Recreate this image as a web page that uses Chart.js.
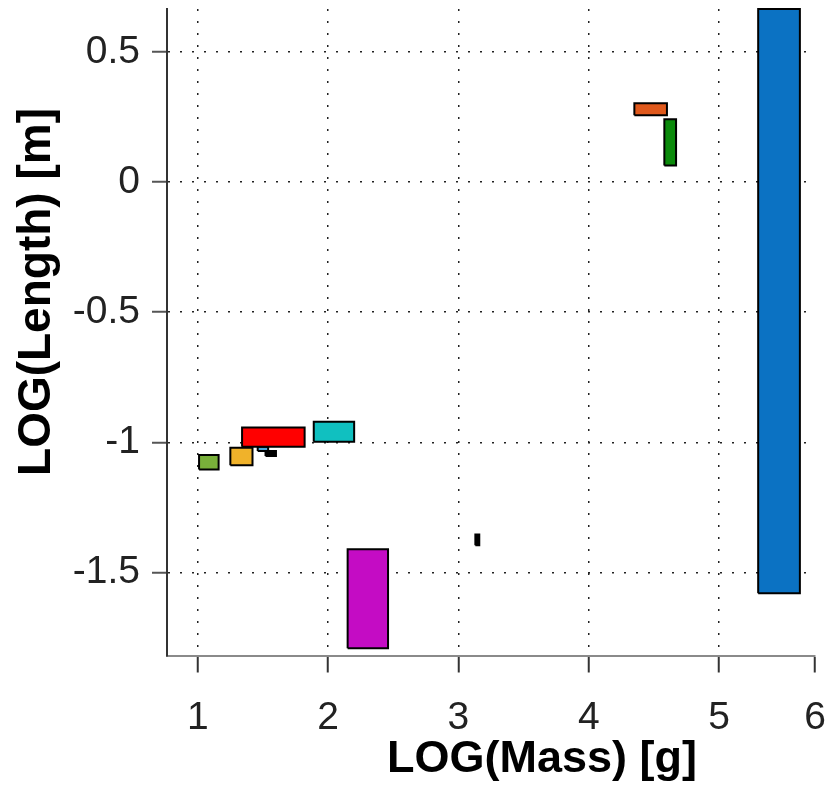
<!DOCTYPE html>
<html>
<head>
<meta charset="utf-8">
<script src="https://cdn.jsdelivr.net/npm/chart.js@4/dist/chart.umd.min.js"></script>
<style>
  html, body { margin: 0; padding: 0; background: #fff; }
  #wrap { width: 825px; height: 787px; }
</style>
</head>
<body>
<div id="wrap"><canvas id="canvas" width="825" height="787"></canvas></div>
<script>
// ranges of each box (log10 units)
const boxIds = ['g1', 'y1', 'r1', 'lb1', 'k1', 'c1', 'm1', 'k2', 'o1', 'g2', 'b1'];
const massMin = [1.01, 1.25, 1.34, 1.46, 1.52, 1.89, 2.15, 3.13, 4.35, 4.58, 5.30];
const massMax = [1.16, 1.42, 1.82, 1.54, 1.60, 2.20, 2.46, 3.16, 4.60, 4.67, 5.62];
const lengthMin = [-1.104, -1.088, -1.017, -1.033, -1.052, -0.998, -1.791, -1.395, 0.257, 0.064, -1.580];
const lengthMax = [-1.049, -1.021, -0.943, -1.017, -1.033, -0.921, -1.411, -1.354, 0.303, 0.241, 0.665];
const boxColors = ['#79b03a', '#f0b22a', '#ff0000', '#4ea9dc', '#000000', '#10c0c0',
                   '#c40cc4', '#000000', '#e0591c', '#0b8a0b', '#0b72c3'];

const xTickValues = [1, 2, 3, 4, 5, 5.736];
const xTickLabels = ['1', '2', '3', '4', '5', '6'];
const yTickValues = [-1.5, -1, -0.5, 0, 0.5];
const yTickLabels = ['-1.5', '-1', '-0.5', '0', '0.5'];

const X_MIN = 0.764, X_MAX = 5.736;
const Y_MIN = -1.819, Y_MAX = 0.665;

const tickFont = { family: "'Liberation Sans Narrow', 'Liberation Sans', Arial, sans-serif", size: 39 };

function boxPoints(i) {
    return [
        { x: massMin[i], y: lengthMin[i] },
        { x: massMax[i], y: lengthMin[i] },
        { x: massMax[i], y: lengthMax[i] },
        { x: massMin[i], y: lengthMax[i] },
        { x: massMin[i], y: lengthMin[i] }
    ];
}

const datasets = boxIds.map((id, i) => ({
    label: id,
    data: boxPoints(i),
    showLine: true,
    fill: 'shape',
    backgroundColor: boxColors[i],
    borderColor: '#000',
    borderWidth: 2,
    pointRadius: 0,
    tension: 0,
    clip: false
}));

// axis titles sit off-centre in the original, so draw them ourselves
const axisTitles = {
    id: 'axisTitles',
    afterDraw(chart) {
        const ctx = chart.ctx;
        ctx.save();
        ctx.fillStyle = '#000';
        ctx.textAlign = 'center';
        ctx.textBaseline = 'alphabetic';
        ctx.font = "bold 45px 'Liberation Sans', Arial, sans-serif";
        ctx.fillText('LOG(Mass) [g]', 542, 772);
        ctx.translate(50, 292);
        ctx.rotate(-Math.PI / 2);
        ctx.font = "bold 46px 'Liberation Sans', Arial, sans-serif";
        ctx.fillText('LOG(Length) [m]', 0, 0);
        ctx.restore();
    }
};

function noPad(scale) {
    scale.paddingTop = 0;
    scale.paddingBottom = 0;
    scale.paddingLeft = 0;
    scale.paddingRight = 0;
}

const ctx = document.getElementById('canvas').getContext('2d');
new Chart(ctx, {
    type: 'scatter',
    data: { datasets: datasets },
    options: {
        responsive: false,
        animation: false,
        layout: { padding: { top: 9, right: 10, left: 0, bottom: 0 } },
        plugins: { legend: { display: false }, tooltip: { enabled: false } },
        scales: {
            x: {
                type: 'linear',
                min: X_MIN,
                max: X_MAX,
                afterBuildTicks: (scale) => { scale.ticks = xTickValues.map(v => ({ value: v })); },
                afterFit: (scale) => { scale.height = 131.5; noPad(scale); },
                ticks: {
                    callback: (v, i) => xTickLabels[i],
                    font: tickFont,
                    color: '#222',
                    padding: 22,
                    maxRotation: 0,
                    autoSkip: false
                },
                grid: {
                    color: (c) => (c.tick && c.tick.value === X_MAX) ? 'rgba(0,0,0,0)' : '#222',
                    lineWidth: 1.5,
                    tickLength: 17,
                    tickColor: '#333',
                    tickWidth: 2,
                    tickBorderDash: []
                },
                border: { display: true, color: '#8a8a8a', width: 2, dash: [2, 10] }
            },
            y: {
                type: 'linear',
                min: Y_MIN,
                max: Y_MAX,
                afterBuildTicks: (scale) => { scale.ticks = yTickValues.map(v => ({ value: v })); },
                afterFit: (scale) => { scale.width = 167; noPad(scale); },
                ticks: {
                    callback: (v, i) => yTickLabels[i],
                    font: tickFont,
                    color: '#222',
                    padding: 12,
                    autoSkip: false
                },
                grid: {
                    color: '#222',
                    lineWidth: 1.5,
                    tickLength: 15,
                    tickColor: '#555',
                    tickWidth: 2,
                    tickBorderDash: []
                },
                border: { display: true, color: '#333', width: 2, dash: [2, 10] }
            }
        }
    },
    plugins: [axisTitles]
});
</script>
</body>
</html>
